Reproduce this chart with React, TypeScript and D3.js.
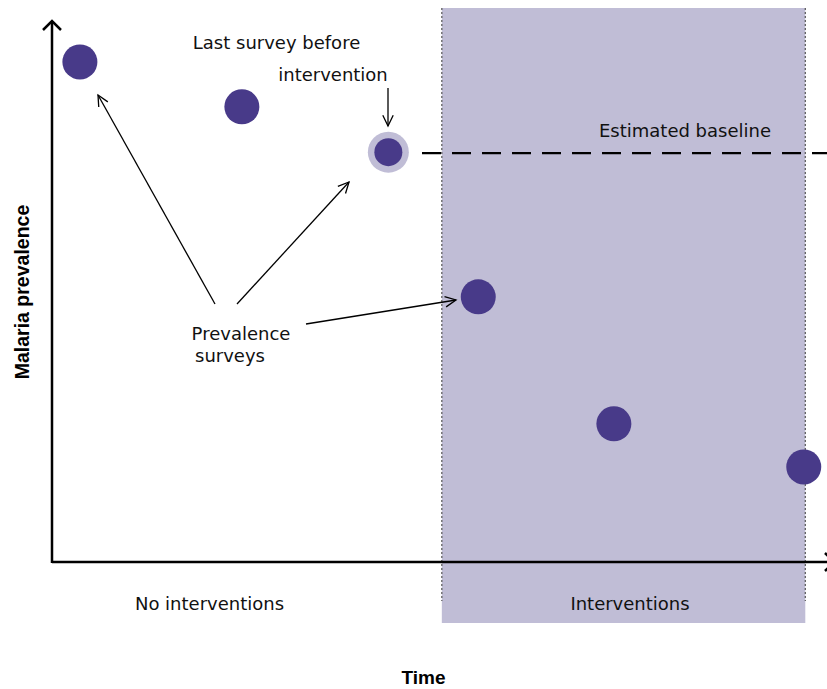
import React from "react";
import * as d3 from "d3";

const surveyTimes = [3.6, 24.5, 43.4, 55.0, 72.5, 97.0];
const surveyPrevalence = [92.6, 84.3, 75.9, 49.1, 25.6, 17.6];
const lastBeforeIndex = 2;
const interventionStart = 50.3;
const interventionEnd = 97.2;
const baselineValue = 75.7;
const periodLabels = ["No interventions", "Interventions"];

const W = 827;
const H = 689;
const x = d3.scaleLinear().domain([0, 100]).range([52, 827]);
const y = d3.scaleLinear().domain([0, 100]).range([562, 22]);

const PURPLE = "#483a89";
const SHADE = "#c0bdd6";
const FONT = "'DejaVu Sans', sans-serif";

function Arrow({ x1, y1, x2, y2, head = 12, sw = 1.3 }: any) {
  const a = Math.atan2(y2 - y1, x2 - x1);
  const sp = Math.PI / 7;
  const p1 = [x2 - head * Math.cos(a - sp), y2 - head * Math.sin(a - sp)];
  const p2 = [x2 - head * Math.cos(a + sp), y2 - head * Math.sin(a + sp)];
  return (
    <g stroke="#000" strokeWidth={sw} fill="none">
      <line x1={x1} y1={y1} x2={x2} y2={y2} />
      <polyline points={`${p1[0]},${p1[1]} ${x2},${y2} ${p2[0]},${p2[1]}`} />
    </g>
  );
}

export default function App() {
  const x0 = x(0);
  const y0 = y(0);
  const xs = x(interventionStart);
  const xe = x(interventionEnd);
  const lb = { cx: x(surveyTimes[lastBeforeIndex]), cy: y(surveyPrevalence[lastBeforeIndex]) };
  return (
    <svg width={W} height={H} style={{ position: "absolute", left: 0, top: 0, background: "#fff" }} fontFamily={FONT}>
      <rect x={xs} y={8} width={xe - xs} height={615} fill={SHADE} />
      <line x1={xs} y1={8} x2={xs} y2={601} stroke="#555" strokeWidth={1.2} strokeDasharray="2,2" />
      <line x1={xe} y1={8} x2={xe} y2={601} stroke="#555" strokeWidth={1.2} strokeDasharray="2,2" />
      <line x1={422} y1={y(baselineValue)} x2={W} y2={y(baselineValue)} stroke="#000" strokeWidth={2.2} strokeDasharray="19,11" />
      <line x1={x0} y1={y0} x2={W} y2={y0} stroke="#000" strokeWidth={2.5} />
      <line x1={x0} y1={y0 + 1} x2={x0} y2={21} stroke="#000" strokeWidth={2.5} />
      <polyline points={`${x0 - 9},${30} ${x0},${21} ${x0 + 9},${30}`} fill="none" stroke="#000" strokeWidth={2.5} />
      <polyline points={`${W - 2},${y0 - 9} ${W + 7},${y0} ${W - 2},${y0 + 9}`} fill="none" stroke="#000" strokeWidth={2.5} />
      <circle cx={lb.cx} cy={lb.cy} r={20.5} fill={SHADE} />
      {surveyTimes.map((t, i) => (
        <circle key={i} cx={x(t)} cy={y(surveyPrevalence[i])} r={i === lastBeforeIndex ? 14 : 17.5} fill={PURPLE} />
      ))}
      <Arrow x1={215} y1={304} x2={98} y2={95} />
      <Arrow x1={237} y1={304} x2={349} y2={182} />
      <Arrow x1={306} y1={324} x2={456} y2={300} />
      <Arrow x1={388} y1={88} x2={388} y2={126} />
      <g fontSize={18} fill="#111">
        <text x={276.5} y={49} textAnchor="middle">Last survey before</text>
        <text x={333} y={81} textAnchor="middle">intervention</text>
        <text x={685} y={137} textAnchor="middle">Estimated baseline</text>
        <text x={241} y={340} textAnchor="middle">Prevalence</text>
        <text x={230} y={362} textAnchor="middle">surveys</text>
        <text x={209.5} y={610} textAnchor="middle">{periodLabels[0]}</text>
        <text x={630} y={610} textAnchor="middle">{periodLabels[1]}</text>
      </g>
      <text x={423.5} y={684} textAnchor="middle" fontSize={19} fontWeight="bold" fontFamily="'Liberation Sans', Arial, sans-serif">Time</text>
      <text transform={`translate(29,292) rotate(-90)`} textAnchor="middle" fontSize={19.5} fontWeight="bold" fontFamily="'Liberation Sans', Arial, sans-serif">Malaria prevalence</text>
    </svg>
  );
}
